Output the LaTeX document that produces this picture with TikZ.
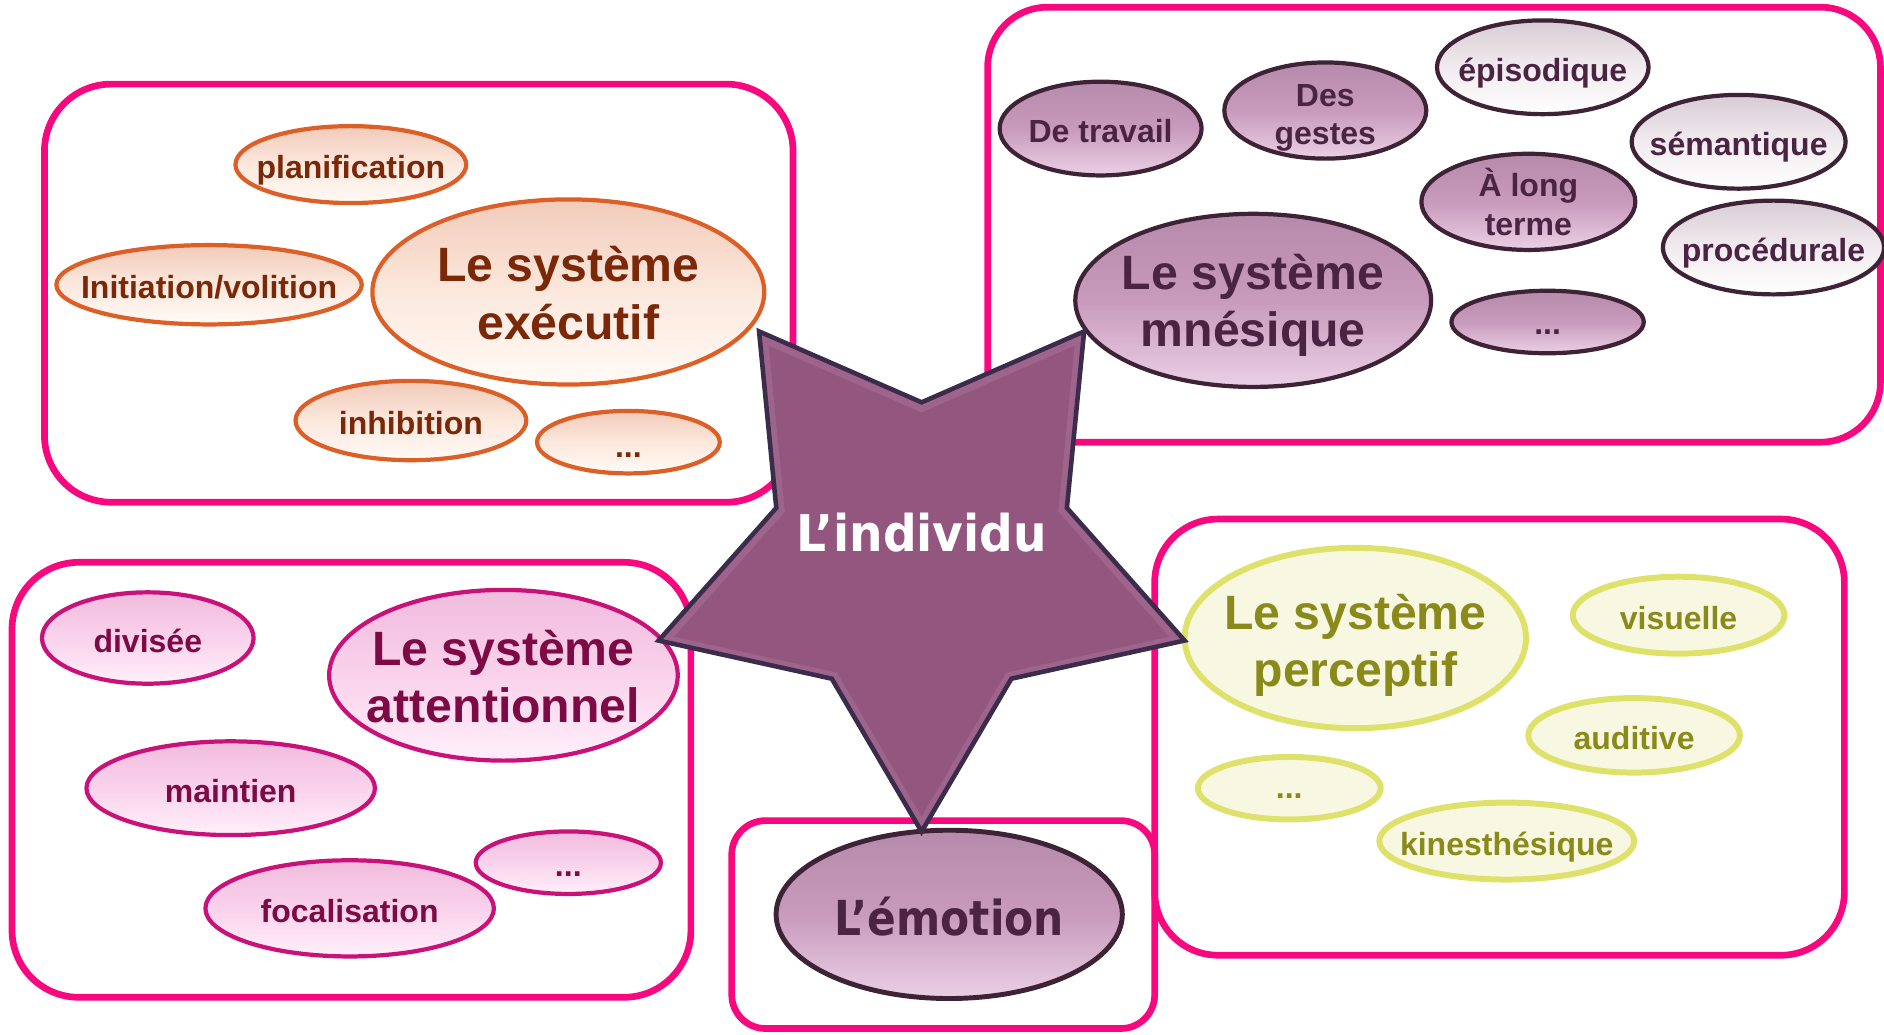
\documentclass[tikz,border=0pt]{standalone}
\usepackage{fontspec}
\setmainfont{Liberation Sans}
\newfontfamily\tahomaA[FakeStretch=0.93]{DejaVu Sans}
\newfontfamily\tahomaB[FakeStretch=0.88]{DejaVu Sans}
\usetikzlibrary{shapes.geometric}
\definecolor{boxpink}{HTML}{F7087E}
\definecolor{execline}{HTML}{DD5F28}
\definecolor{execA}{HTML}{F1CBBA}
\definecolor{execB}{HTML}{FCE8DD}
\definecolor{execC}{HTML}{FFFAF6}
\definecolor{exectext}{HTML}{7A2808}
\definecolor{mnesline}{HTML}{3E2236}
\definecolor{mauveA}{HTML}{B68AAA}
\definecolor{mauveB}{HTML}{C89ABC}
\definecolor{mauveC}{HTML}{EBD0E5}
\definecolor{lightA}{HTML}{D8CCD4}
\definecolor{lightB}{HTML}{F1EBEF}
\definecolor{lightC}{HTML}{FFFFFF}
\definecolor{mnestext}{HTML}{4A2442}
\definecolor{attline}{HTML}{C8127A}
\definecolor{attA}{HTML}{F0BCDC}
\definecolor{attB}{HTML}{FAD2EC}
\definecolor{attC}{HTML}{FFF0FA}
\definecolor{atttext}{HTML}{7D0A45}
\definecolor{percline}{HTML}{DEE26A}
\definecolor{percfill}{HTML}{F8F8E2}
\definecolor{perctext}{HTML}{8A8A1A}
\definecolor{starfill}{HTML}{93577F}
\definecolor{starlight}{HTML}{9E648C}
\definecolor{starline}{HTML}{3A2C4A}
\tikzset{
  grp/.style={draw=boxpink, line width=1.9pt, rounded corners=#1},
  sz/.style 2 args={ellipse, inner sep=0pt, outer sep=0pt, minimum width=#1*0.2403mm, minimum height=#2*0.2403mm},
  exE/.style={draw=execline, line width=1.2pt, top color=execA, bottom color=execC, middle color=execB},
  mnD/.style={draw=mnesline, line width=1.2pt, top color=mauveA, bottom color=mauveC, middle color=mauveB},
  mnL/.style={draw=mnesline, line width=1.2pt, top color=lightA, bottom color=lightC, middle color=lightB},
  atE/.style={draw=attline, line width=1.2pt, top color=attA, bottom color=attC, middle color=attB},
  peE/.style={draw=percline, line width=1.7pt, fill=percfill},
  small/.style={font=\fontsize{9.1}{10.9}\selectfont\bfseries, inner sep=0pt, text height=6.6pt, text depth=0pt, yshift=-0.7pt},
  small2/.style={font=\fontsize{9.1}{11}\selectfont\bfseries, align=center, inner sep=0pt},
  big/.style={font=\fontsize{13.7}{16.4}\selectfont\bfseries, align=center, inner sep=0pt},
  starshape/.style={star, star points=5, star point ratio=1.81, shape border rotate=180, inner sep=0pt, outer sep=0pt}
}
\begin{document}
\begin{tikzpicture}[x=0.012015cm, y=-0.012015cm]
\useasboundingbox (0,0) rectangle (1568,861);
% group boxes
\draw[grp=19pt] (37,70) rectangle (660,418);
\draw[grp=17pt] (822,6) rectangle (1565,368);
\draw[grp=19pt] (10,468) rectangle (575,830);
\draw[grp=9.6pt] (609,683) rectangle (961,856);
\draw[grp=18pt] (961,432) rectangle (1535,795);
% executive system
\node[sz={96}{32}, exE] (plan) at (292,137) {};
\node[small, text=exectext] (plan-t) at (plan) {planification};
\node[sz={127}{33}, exE] (init) at (174,237) {};
\node[small, text=exectext] (init-t) at (init) {Initiation/volition};
\node[sz={163}{77}, exE] (exec) at (473,243) {};
\node[big, text=exectext] (exec-t) at (473,244) {Le système\\exécutif};
\node[sz={96}{33}, exE] (inhib) at (342,350) {};
\node[small, text=exectext] (inhib-t) at (inhib) {inhibition};
\node[sz={76}{26}, exE] (exdots) at (523,368) {};
\node[small, text=exectext] (exdots-t) at (523,369) {...};
% memory system
\node[sz={84}{39}, mnD] (trav) at (916,107) {};
\node[small, text=mnestext] (trav-t) at (trav) {De travail};
\node[sz={84}{40}, mnD] (gest) at (1103,92) {};
\node[small2, text=mnestext] (gest-t) at (1103,98) {Des\\gestes};
\node[sz={88}{39}, mnL] (epis) at (1284,56) {};
\node[small, text=mnestext] (epis-t) at (epis) {épisodique};
\node[sz={89}{39}, mnL] (sem) at (1447,118) {};
\node[small, text=mnestext] (sem-t) at (sem) {sémantique};
\node[sz={89}{40}, mnD] (long) at (1272,168) {};
\node[small2, text=mnestext] (long-t) at (long) {À long\\terme};
\node[sz={92}{39}, mnL] (proc) at (1476,206) {};
\node[small, text=mnestext] (proc-t) at (proc) {procédurale};
\node[sz={148}{72}, mnD] (mnes) at (1043,250) {};
\node[big, text=mnestext] (mnes-t) at (1043,254) {Le système\\mnésique};
\node[sz={80}{26}, mnD] (mndots) at (1288,268) {};
\node[small, text=mnestext] (mndots-t) at (1288,267) {...};
% attention system
\node[sz={88}{38}, atE] (div) at (123,531) {};
\node[small, text=atttext] (div-t) at (div) {divisée};
\node[sz={145}{71}, atE] (att) at (419,562) {};
\node[big, text=atttext] (att-t) at (419,563) {Le système\\attentionnel};
\node[sz={120}{39}, atE] (maint) at (192,656) {};
\node[small, text=atttext] (maint-t) at (maint) {maintien};
\node[sz={77}{26}, atE] (atdots) at (473,718) {};
\node[small, text=atttext] (atdots-t) at (473,718) {...};
\node[sz={120}{40}, atE] (foc) at (291,756) {};
\node[small, text=atttext] (foc-t) at (foc) {focalisation};
% perceptive system
\node[sz={142}{75}, peE] (perc) at (1128,531) {};
\node[big, text=perctext] (perc-t) at (1128,537) {Le système\\perceptif};
\node[sz={88}{32}, peE] (vis) at (1397,512) {};
\node[small, text=perctext] (vis-t) at (vis) {visuelle};
\node[sz={88}{31}, peE] (aud) at (1360,612) {};
\node[small, text=perctext] (aud-t) at (aud) {auditive};
\node[sz={76}{26}, peE] (pedots) at (1073,656) {};
\node[small, text=perctext] (pedots-t) at (1073,653) {...};
\node[sz={106}{32}, peE] (kin) at (1254,700) {};
\node[small, text=perctext] (kin-t) at (kin) {kinesthésique};
% emotion
\node[sz={144}{70}, draw=mnesline, line width=1.4pt, top color=mauveA, bottom color=mauveC, middle color=mauveB] (emo) at (790,761) {};
\node[font=\tahomaB\bfseries\fontsize{13.7}{16}\selectfont, text=mnestext, inner sep=0pt] (emo-t) at (790,763) {L’émotion};
% star
\node[starshape, minimum size=5.527cm, fill=starlight, draw=starline, line width=1.3pt, line join=miter] (star) at (767,462) {};
\node[starshape, minimum size=5.2cm, fill=starfill] (star-in) at (767,463) {};
\node[font=\tahomaA\bfseries\fontsize{14.4}{17}\selectfont, text=white, inner sep=0pt] (indiv) at (767,443) {L’individu};
\end{tikzpicture}
\end{document}
